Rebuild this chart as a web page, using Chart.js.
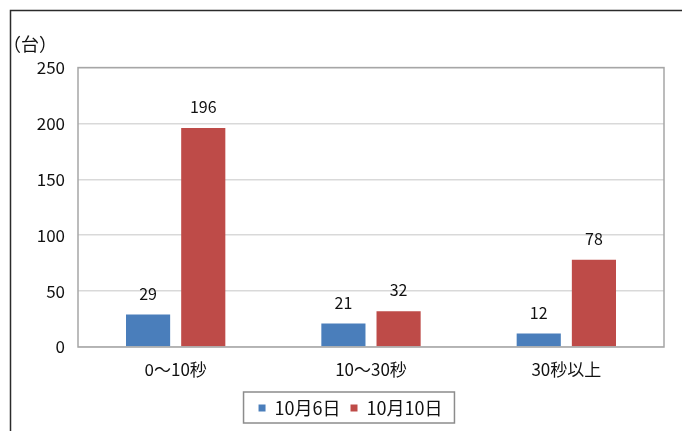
<!DOCTYPE html>
<html>
<head>
<meta charset="utf-8">
<script src="https://cdn.jsdelivr.net/npm/chart.js@4"></script>
<style>
  html, body { margin: 0; padding: 0; background: #fff; }
  #wrap { width: 682px; height: 431px; position: relative; }
</style>
</head>
<body>
<div id="wrap"><canvas id="chart"></canvas></div>
<script>
// chart data
const categories = ['0～10秒', '10～30秒', '30秒以上'];
const seriesNames = ['10月6日', '10月10日'];
const oct6 = [29, 21, 12];
const oct10 = [196, 32, 78];
const yTicks = [0, 50, 100, 150, 200, 250];

const FONT = "'Noto Sans CJK JP', 'Noto Sans', sans-serif";

// outer frame, plot border, legend box, value labels
const decorations = {
    id: 'decorations',
    afterLayout(chart) {
        // legend in the reference sits a little right of centre
        const lg = chart.legend;
        const dx = 17;
        lg.left += dx;
        lg.right += dx;
        (lg.legendHitBoxes || []).forEach(b => { b.left += dx; });
    },
    beforeDraw(chart) {
        const c = chart.ctx;
        c.save();
        c.strokeStyle = '#2b2b2b';
        c.lineWidth = 1.5;
        c.beginPath();
        c.moveTo(10.5, 431);
        c.lineTo(10.5, 10.5);
        c.lineTo(682, 10.5);
        c.stroke();
        c.restore();
    },
    afterDatasetsDraw(chart) {
        const c = chart.ctx;
        const a = chart.chartArea;
        c.save();
        c.strokeStyle = '#a6a6a6';
        c.lineWidth = 1.5;
        c.strokeRect(a.left, a.top, a.right - a.left, a.bottom - a.top);

        c.fillStyle = '#111';
        c.font = '16px ' + FONT;
        c.textAlign = 'center';
        c.textBaseline = 'middle';
        chart.data.datasets.forEach((ds, i) => {
            chart.getDatasetMeta(i).data.forEach((bar, j) => {
                c.fillText(ds.data[j], bar.x, bar.y - 21);
            });
        });
        c.restore();
    },
    afterDraw(chart) {
        const boxes = chart.legend.legendHitBoxes;
        if (!boxes || !boxes.length) return;
        const l = Math.min(...boxes.map(b => b.left)) - 15;
        const r = Math.max(...boxes.map(b => b.left + b.width)) + 12;
        const t = boxes[0].top - 7;
        const b = boxes[0].top + boxes[0].height + 6;
        const c = chart.ctx;
        c.save();
        c.strokeStyle = '#8c8c8c';
        c.lineWidth = 1.5;
        c.strokeRect(l, t, r - l, b - t);
        c.restore();
    }
};

new Chart(document.getElementById('chart'), {
    type: 'bar',
    data: {
        labels: categories,
        datasets: [{
            label: seriesNames[0],
            data: oct6,
            backgroundColor: '#4a7ebb',
            barPercentage: 0.8,
            categoryPercentage: 0.565
        }, {
            label: seriesNames[1],
            data: oct10,
            backgroundColor: '#be4b48',
            barPercentage: 0.8,
            categoryPercentage: 0.565
        }]
    },
    options: {
        responsive: true,
        maintainAspectRatio: false,
        animation: false,
        layout: { padding: { left: 3, right: 18, top: 0, bottom: 4 } },
        plugins: {
            tooltip: { enabled: false },
            title: {
                display: true,
                text: '（台）',
                align: 'start',
                color: '#111',
                font: { family: FONT, size: 18, weight: 'normal' },
                padding: { top: 33, bottom: 13 }
            },
            legend: {
                position: 'bottom',
                labels: {
                    color: '#111',
                    font: { family: FONT, size: 18 },
                    boxWidth: 7,
                    boxHeight: 7,
                    padding: 10
                }
            }
        },
        scales: {
            x: {
                grid: { display: false, drawTicks: false },
                border: { display: false },
                ticks: {
                    color: '#111',
                    font: { family: FONT, size: 17 },
                    padding: 12
                },
                afterFit: s => { s.height = 42; }
            },
            y: {
                min: 0,
                max: 250,
                afterBuildTicks: s => { s.ticks = yTicks.map(v => ({ value: v })); },
                grid: { color: '#d9d9d9', lineWidth: 1.5, drawTicks: false },
                border: { display: false },
                ticks: {
                    color: '#111',
                    font: { family: FONT, size: 17 },
                    padding: 13
                },
                afterFit: s => { s.width = 75; }
            }
        }
    },
    plugins: [decorations]
});
</script>
</body>
</html>
